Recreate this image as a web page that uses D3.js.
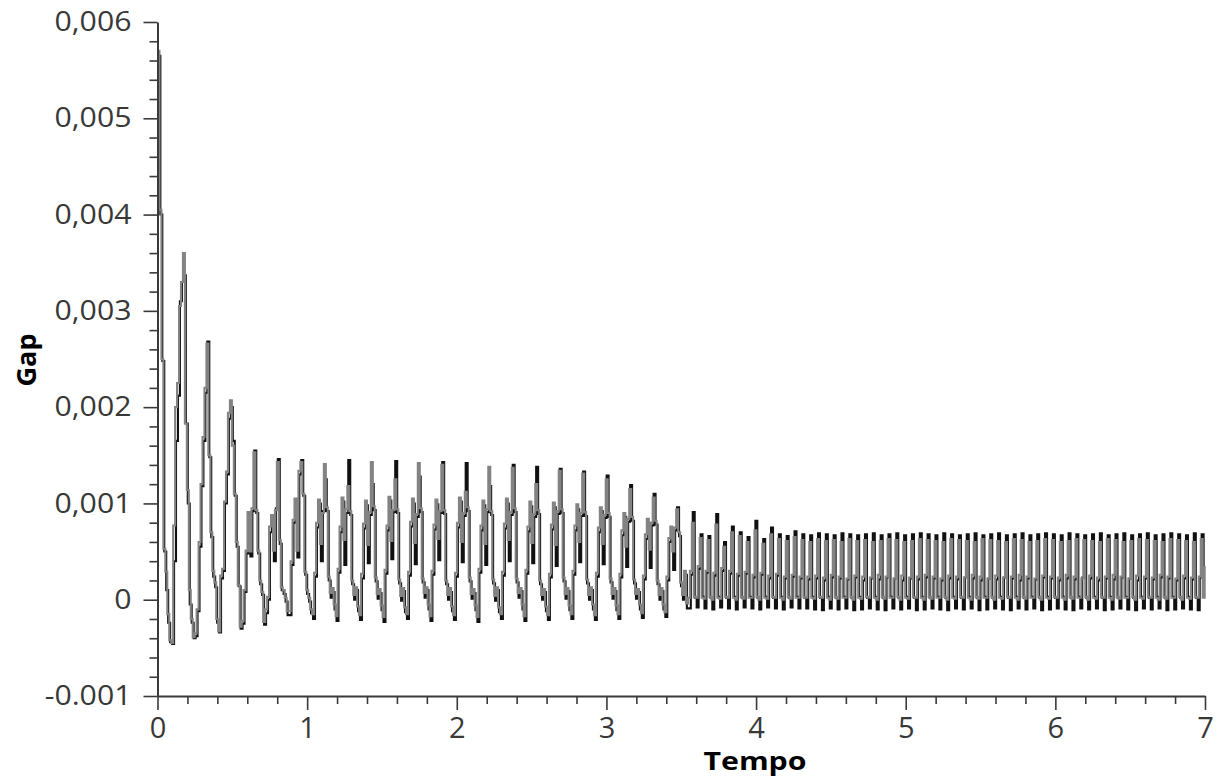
<!DOCTYPE html>
<html>
<head>
<meta charset="utf-8">
<script src="https://cdn.jsdelivr.net/npm/d3@7"></script>
<style>
  body { margin: 0; background: #fff; }
  svg { display: block; }
</style>
</head>
<body>
<svg id="chart" width="1217" height="781"></svg>
<script>
// Sampled gap signal (zero-order hold), two overlaid runs.
const sampleStep = 0.01308;   // seconds between samples
const blackDelay = 0.006;     // sample-time offset of the dark run
const valueUnit = 1e-5;       // values below are in units of 1e-5

const grayValues = [
  570, 405, 250, 53, 29, -15, -42,
  -45, 77, 200, 225, 305, 330, 360, 183, 114, 10, -20, -39,
  -35, -10, 60, 120, 169, 220, 266, 150, 70, 30, 18, -20,
  -33, 25, 32, 102, 133, 194, 207, 160, 110, 60, 15, -28,
  -22, 10, 51, 91, 50, 95, 153, 93, 51, 20, 8, -23,
  -10, 3, 76, 88, 51, 93, 143, 62, 13, 10, 2, -12,
  -12, 40, 83, 105, 51, 134, 143, 110, 29, 10, 2, -10,
  -15, 28, 80, 104, 58, 90, 141, 96, 24, 7, 12, -5,
  -17, 32, 76, 106, 62, 94, 118, 92, 20, 5, 13, -7,
  -16, 27, 79, 103, 57, 91, 143, 97, 23, 6, 11, -6,
  -18, 31, 77, 107, 61, 93, 125, 94, 21, 4, 12, -8,
  -15, 29, 81, 105, 59, 89, 142, 95, 22, 7, 13, -5,
  -17, 30, 78, 104, 63, 92, 140, 93, 20, 5, 12, -7,
  -16, 28, 80, 106, 60, 90, 112, 96, 23, 6, 11, -6,
  -18, 32, 77, 103, 58, 94, 138, 92, 21, 4, 13, -8,
  -15, 29, 79, 105, 62, 91, 137, 95, 22, 7, 12, -5,
  -17, 31, 76, 102, 59, 89, 120, 93, 20, 5, 11, -7,
  -16, 27, 78, 101, 57, 92, 134, 94, 23, 6, 12, -6,
  -15, 30, 77, 99, 60, 90, 131, 91, 21, 5, 13, -5,
  -16, 28, 75, 96, 58, 88, 125, 90, 22, 6, 12, -6,
  -15, 27, 72, 90, 55, 84, 115, 86, 21, 6, 11, -5,
  -14, 25, 68, 84, 52, 80, 106, 82, 20, 5, 12, -5,
  -13, 24, 64, 76, 50, 75, 94, 70, 18, 5, 30, -4,
  2, 30,
  80, 3, 2, 35,  64, 2, 1, 30,  62, 3, 0, 28,  78, 2, 1, 33,
  55, 3, 2, 30,  70, 2, 0, 27,  66, 3, 1, 29,  60, 2, 2, 26,
  72, 3, 0, 28,  58, 2, 1, 25,  68, 3, 2, 27,  63, 2, 0, 24,
  61, 3, 1, 26,  65, 2, 2, 24,
  62, 3, 2, 24,  60, 2, 1, 25,  63, 3, 2, 23,  61, 2, 0, 26,
  62, 3, 1, 24,  60, 2, 2, 22,  63, 3, 0, 25,  61, 2, 1, 24,
  62, 3, 2, 23,  60, 2, 0, 26,  61, 3, 1, 24,  63, 2, 2, 22,
  62, 3, 0, 25,  60, 2, 1, 23,  61, 3, 2, 24,  63, 2, 0, 26,
  62, 3, 1, 24,  61, 2, 2, 22,  60, 3, 0, 25,  63, 2, 1, 24,
  62, 3, 2, 23,  61, 2, 0, 26,  60, 3, 1, 24,  63, 2, 2, 22,
  62, 3, 0, 25,  61, 2, 1, 23,  60, 3, 2, 24,  63, 2, 0, 26,
  62, 3, 1, 24,  60, 2, 2, 22,  61, 3, 0, 25,  63, 2, 1, 24,
  62, 3, 2, 23,  60, 2, 0, 26,  61, 3, 1, 24,  63, 2, 2, 22,
  62, 3, 0, 25,  61, 2, 1, 23,  60, 3, 2, 24,  63, 2, 0, 26,
  62, 3, 1, 24,  60, 2, 2, 22,  61, 3, 0, 25,  63, 2, 1, 24,
  62, 3, 2, 23,  61, 2, 0, 26,  60, 3, 1, 24,  63, 2, 2, 22,
  62, 3, 0, 25,  61, 2, 1, 23,  60, 3, 2, 24,  63, 2, 35
];

const blackValues = [
  565, 400, 248, 50, 10, -24, -44,
  -46, 40, 165, 212, 310, 330, 337, 183, 100, -5, -24, -40,
  -38, -12, 55, 118, 165, 215, 268, 148, 65, 24, 13, -24,
  -34, 22, 30, 100, 130, 188, 200, 165, 108, 55, 14, -30,
  -25, 8, 48, 88, 45, 92, 155, 90, 48, 16, 5, -26,
  -14, 0, 70, 85, 40, 95, 146, 58, 10, 6, -2, -16,
  -16, 36, 80, 100, 44, 130, 145, 108, 26, 6, -2, -14,
  -20, 24, 75, 100, 40, 92, 125, 92, 20, 2, 8, -10,
  -22, 28, 70, 102, 36, 90, 145, 88, 16, 0, 10, -12,
  -21, 22, 74, 98, 38, 88, 120, 93, 19, 1, 7, -11,
  -23, 27, 72, 103, 42, 91, 144, 90, 17, -1, 9, -13,
  -20, 25, 76, 100, 37, 86, 128, 91, 18, 2, 10, -10,
  -22, 26, 73, 99, 41, 90, 143, 89, 16, 0, 8, -12,
  -21, 24, 75, 102, 39, 87, 142, 92, 19, 1, 7, -11,
  -23, 28, 72, 98, 36, 91, 118, 88, 17, -1, 10, -13,
  -20, 25, 74, 100, 40, 88, 140, 91, 18, 2, 9, -10,
  -22, 27, 71, 97, 38, 86, 138, 89, 16, 0, 8, -12,
  -21, 23, 73, 96, 35, 89, 136, 90, 19, 1, 9, -11,
  -20, 26, 72, 94, 39, 87, 133, 87, 17, 0, 10, -10,
  -21, 24, 70, 92, 37, 85, 129, 86, 18, 1, 9, -11,
  -20, 23, 67, 86, 34, 81, 119, 82, 17, 1, 8, -10,
  -19, 21, 63, 80, 33, 77, 110, 78, 16, 0, 9, -10,
  -18, 20, 60, 72, 31, 72, 96, 66, 14, 0, 26, -9,
  -9, 26,
  91, 2, -8, 32,  68, 3, -9, 28,  66, 2, -10, 25,  89, 3, -8, 30,
  60, 2, -9, 27,  76, 3, -10, 25,  70, 2, -8, 27,  65, 3, -9, 23,
  82, 2, -10, 26,  63, 3, -8, 22,  75, 2, -9, 25,  68, 3, -10, 22,
  66, 2, -8, 24,  71, 3, -9, 22,
  68, 2, -9, 21,  67, 3, -10, 22,  69, 2, -11, 20,  68, 3, -9, 23,
  67, 2, -10, 22,  69, 3, -9, 21,  68, 2, -11, 23,  67, 3, -10, 20,
  68, 2, -9, 22,  69, 3, -10, 21,  67, 2, -11, 23,  68, 3, -9, 22,
  69, 2, -10, 20,  67, 3, -9, 22,  68, 2, -11, 21,  69, 3, -10, 23,
  68, 2, -9, 22,  67, 3, -10, 20,  69, 2, -11, 22,  68, 3, -9, 21,
  67, 2, -10, 23,  68, 3, -9, 22,  69, 2, -11, 20,  67, 3, -10, 22,
  68, 2, -9, 21,  69, 3, -10, 23,  67, 2, -11, 22,  68, 3, -9, 20,
  69, 2, -10, 22,  67, 3, -9, 21,  68, 2, -11, 23,  69, 3, -10, 22,
  68, 2, -9, 20,  67, 3, -10, 22,  69, 2, -11, 21,  68, 3, -9, 23,
  67, 2, -10, 22,  68, 3, -9, 20,  69, 2, -11, 22,  67, 3, -10, 21,
  68, 2, -9, 23,  69, 3, -10, 22,  67, 2, -11, 20,  68, 3, -9, 22,
  69, 2, -10, 21,  67, 3, -9, 23,  68, 2, -11, 22,  69, 3, -10, 20,
  68, 2, -9, 22,  67, 3, -10, 21,  69, 2, -11, 23,  68, 3, 30
];

const xTicks = [0, 1, 2, 3, 4, 5, 6, 7];
const xTickLabels = ["0", "1", "2", "3", "4", "5", "6", "7"];
const yTicks = [-0.001, 0, 0.001, 0.002, 0.003, 0.004, 0.005, 0.006];
const yTickLabels = ["-0.001", "0", "0,001", "0,002", "0,003", "0,004", "0,005", "0,006"];
const xMinorStep = 0.2;
const yMinorStep = 0.0002;

const svg = d3.select("#chart");

const x = d3.scaleLinear().domain([0, 7]).range([157.5, 1205]);
const y = d3.scaleLinear().domain([-0.001, 0.006]).range([696, 22]);

const toPoints = (vals, t0) => vals.map((v, i) => ({ t: t0 + i * sampleStep, v: v * valueUnit }));
const grayData = toPoints(grayValues, 0);
const blackData = toPoints(blackValues, blackDelay).filter(d => d.t <= 7);

const line = d3.line()
  .x(d => x(d.t))
  .y(d => y(d.v))
  .curve(d3.curveStepAfter);

const plot = svg.append("g");
plot.append("path")
  .datum(blackData)
  .attr("d", line)
  .attr("fill", "none")
  .attr("stroke", "#111")
  .attr("stroke-width", 2.1);
plot.append("path")
  .datum(grayData)
  .attr("d", line)
  .attr("fill", "none")
  .attr("stroke", "#838383")
  .attr("stroke-width", 2.1);

// minor ticks
const xMinor = d3.range(0, 7.0001, xMinorStep).filter(v => Math.abs(v - Math.round(v)) > 1e-6);
const yMinor = d3.range(-0.001, 0.00600001, yMinorStep).filter(v => Math.abs(v * 1000 - Math.round(v * 1000)) > 1e-6);

const tickColor = "#3a3a3a";
const labelFont = "'Open Sans', sans-serif";

const xAxisG = svg.append("g").attr("transform", "translate(0,696)");
xAxisG.call(d3.axisBottom(x).tickValues(xMinor).tickSize(8).tickSizeOuter(0).tickFormat(""));
xAxisG.call(g => g.selectAll(".tick line").attr("stroke", tickColor).attr("stroke-width", 1.6));
xAxisG.call(g => g.select(".domain").remove());
const xMajorG = svg.append("g").attr("transform", "translate(0,696)");
xMajorG.call(d3.axisBottom(x).tickValues(xTicks).tickSize(14).tickSizeOuter(0)
  .tickFormat((d, i) => xTickLabels[i]).tickPadding(7));
xMajorG.select(".domain").attr("stroke", tickColor).attr("stroke-width", 2);
xMajorG.selectAll(".tick line").attr("stroke", tickColor).attr("stroke-width", 1.6);
xMajorG.selectAll(".tick text")
  .attr("font-family", labelFont).attr("font-size", 29).attr("fill", "#383838");

const yAxisG = svg.append("g").attr("transform", "translate(157.5,0)");
yAxisG.call(d3.axisLeft(y).tickValues(yMinor).tickSize(8).tickSizeOuter(0).tickFormat(""));
yAxisG.call(g => g.selectAll(".tick line").attr("stroke", tickColor).attr("stroke-width", 1.6));
yAxisG.call(g => g.select(".domain").remove());
const yMajorG = svg.append("g").attr("transform", "translate(157.5,0)");
yMajorG.call(d3.axisLeft(y).tickValues(yTicks).tickSize(14).tickSizeOuter(0)
  .tickFormat((d, i) => yTickLabels[i]).tickPadding(12));
yMajorG.select(".domain").attr("stroke", tickColor).attr("stroke-width", 2);
yMajorG.selectAll(".tick line").attr("stroke", tickColor).attr("stroke-width", 1.6);
yMajorG.selectAll(".tick text")
  .attr("font-family", labelFont).attr("font-size", 27).attr("fill", "#383838")
  .attr("textLength", function () { return this.getComputedTextLength() * 1.12; })
  .attr("lengthAdjust", "spacingAndGlyphs");

// axis titles
svg.append("text")
  .attr("x", 755).attr("y", 770)
  .attr("text-anchor", "middle")
  .attr("font-family", labelFont).attr("font-weight", 700).attr("font-size", 25)
  .attr("fill", "#000")
  .attr("textLength", 103).attr("lengthAdjust", "spacingAndGlyphs")
  .text("Tempo");

svg.append("text")
  .attr("transform", "translate(36,360) rotate(-90)")
  .attr("text-anchor", "middle")
  .attr("font-family", labelFont).attr("font-weight", 700).attr("font-size", 27)
  .attr("fill", "#000")
  .text("Gap");
</script>
</body>
</html>
